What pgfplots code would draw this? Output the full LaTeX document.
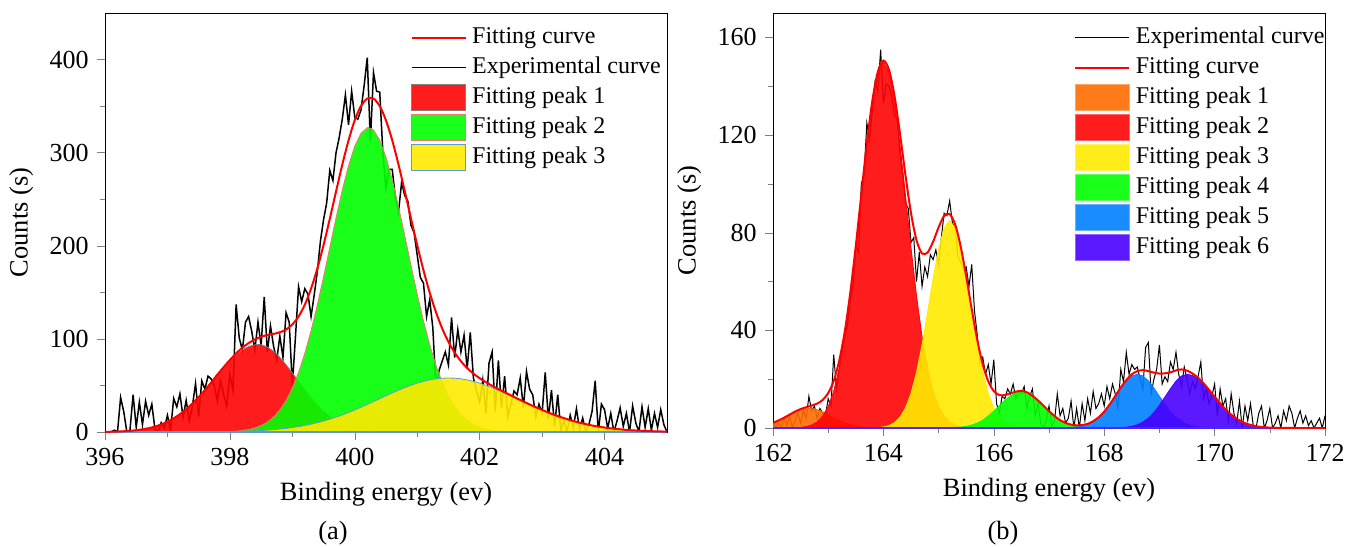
\documentclass[12pt,border=0pt]{standalone}
\usepackage{fontspec}
\setmainfont{Liberation Serif}
\usepackage{pgfplots}
\pgfplotsset{compat=1.18}
\definecolor{pkred}{RGB}{255,3,3}
\definecolor{pkgreen}{RGB}{0,255,0}
\definecolor{pkyellow}{RGB}{255,234,0}
\definecolor{pkorange}{RGB}{255,107,0}
\definecolor{pkblue}{RGB}{0,127,255}
\definecolor{pkviolet}{RGB}{72,0,255}
\definecolor{edgeblue}{RGB}{91,155,213}
\definecolor{edgesalmon}{RGB}{240,120,110}
\definecolor{baseviolet}{RGB}{70,40,255}

\pgfplotsset{
  legline/.style={legend image code/.code={\draw[##1] (0pt,0pt) -- (27pt,0pt);}},
  legbox/.style={legend image code/.code={\draw[##1] (0pt,-6.5pt) rectangle (27pt,6.5pt);}},
  xps/.style={
    scale only axis, tick align=outside, tick pos=left,
    minor tick num=1, major tick length=4pt, minor tick length=2.5pt,
    /pgf/number format/assume math mode=true,
    label style={font=\fontsize{13.2}{15}\selectfont},
    tick label style={font=\fontsize{13}{15}\selectfont},
    xlabel={Binding energy (ev)}, ylabel={Counts (s)},
    legend cell align=left,
    legend style={draw=none, fill=none, anchor=north west, row sep=0pt,
                  inner sep=0pt,
                  nodes={inner sep=1pt, text height=9.5pt, text depth=3.5pt},
                  /tikz/every odd column/.append style={column sep=1.8pt},
                  font=\fontsize{12}{14}\selectfont},
  },
  peak/.style={fill opacity=0.9, line width=0.4pt},
}

\begin{document}
\begin{tikzpicture}
\useasboundingbox (0,0) rectangle (673.5pt,-273pt);

% ---------------- panel (a) ----------------
\begin{axis}[xps,
  at={(52.5pt,-216pt)}, anchor=south west,
  width=281pt, height=209.5pt,
  xmin=396, xmax=405, ymin=0, ymax=450,
  xtick={396,398,...,404}, ytick={0,100,...,400},
  legend style={at={(0.543,0.978)}},
]
% experimental curve
\addplot[black, line width=0.75pt, forget plot] coordinates {
(396.10,0)(396.15,2)(396.20,0)(396.25,37)(396.30,22)(396.35,0)(396.40,2)(396.45,40)
(396.50,5)(396.55,32)(396.60,8)(396.65,33)(396.70,18)(396.75,30)(396.80,3)(396.85,0)
(396.90,10)(396.95,4)(397.00,18)(397.05,2)(397.10,36)(397.15,27)(397.20,41)(397.25,16)
(397.30,34)(397.35,12)(397.40,28)(397.45,52)(397.50,17)(397.55,55)(397.60,46)(397.65,60)
(397.70,57)(397.75,50)(397.80,33)(397.85,55)(397.90,40)(397.95,28)(398.00,62)(398.05,45)
(398.10,137)(398.15,101)(398.20,88)(398.25,118)(398.30,124)(398.35,108)(398.40,88)(398.45,118)
(398.50,93)(398.55,145)(398.60,86)(398.65,114)(398.70,92)(398.75,77)(398.80,103)(398.85,80)
(398.90,128)(398.95,118)(399.00,50)(399.05,102)(399.10,156)(399.15,140)(399.20,154)(399.25,148)
(399.30,124)(399.35,147)(399.40,172)(399.45,205)(399.50,228)(399.55,246)(399.60,281)(399.65,270)
(399.70,300)(399.75,316)(399.80,336)(399.85,362)(399.90,330)(399.95,366)(400.00,338)(400.05,336)
(400.10,346)(400.15,372)(400.20,402)(400.25,312)(400.30,386)(400.35,366)(400.40,365)(400.45,300)
(400.50,262)(400.55,282)(400.60,282)(400.65,252)(400.70,236)(400.75,268)(400.80,254)(400.85,248)
(400.90,222)(400.95,214)(401.00,190)(401.05,166)(401.10,160)(401.15,124)(401.20,142)(401.25,112)
(401.30,48)(401.35,66)(401.40,76)(401.45,86)(401.50,72)(401.55,123)(401.60,80)(401.65,110)
(401.70,86)(401.75,104)(401.80,68)(401.85,107)(401.90,58)(401.95,44)(402.00,32)(402.05,56)
(402.10,20)(402.15,74)(402.20,86)(402.25,22)(402.30,77)(402.35,26)(402.40,60)(402.45,16)
(402.50,30)(402.55,44)(402.60,40)(402.65,58)(402.70,26)(402.75,65)(402.80,46)(402.85,40)
(402.90,16)(402.95,30)(403.00,20)(403.05,64)(403.10,14)(403.15,45)(403.20,6)(403.25,40)
(403.30,2)(403.35,12)(403.40,0)(403.45,18)(403.50,5)(403.55,25)(403.60,3)(403.65,15)
(403.70,0)(403.75,8)(403.80,22)(403.85,55)(403.90,0)(403.95,30)(404.00,24)(404.05,4)
(404.10,20)(404.15,0)(404.20,12)(404.25,26)(404.30,6)(404.35,20)(404.40,0)(404.45,28)
(404.50,10)(404.55,0)(404.60,27)(404.65,5)(404.70,25)(404.75,2)(404.80,20)(404.85,5)
(404.90,24)(404.95,8)(405.00,0)};
% fitting peak 1
\addplot[peak, fill=pkred, draw=gray, forget plot] coordinates {
(396.0,0.2)(396.1,0.3)(396.2,0.5)(396.3,0.8)(396.4,1.3)(396.5,1.9)(396.6,2.9)(396.7,4.1)
(396.8,5.8)(396.9,8.1)(397.0,11.0)(397.1,14.7)(397.2,19.1)(397.3,24.3)(397.4,30.6)(397.5,37.4)
(397.6,44.9)(397.7,52.9)(397.8,61.1)(397.9,69.0)(398.0,76.4)(398.1,82.9)(398.2,88.2)(398.3,91.8)
(398.4,93.7)(398.45,94)(398.5,93.7)(398.6,91.3)(398.7,86.7)(398.8,80.2)(398.9,72.2)(399.0,63.5)
(399.1,54.2)(399.2,45.2)(399.3,36.8)(399.4,29.0)(399.5,22.4)(399.6,16.8)(399.7,12.3)(399.8,8.8)
(399.9,6.1)(400.0,4.1)(400.1,2.7)(400.2,1.7)(400.3,1.1)(400.4,0.7)(400.5,0.4)(400.6,0.2)(400.7,0.1)} \closedcycle;
% fitting peak 2
\addplot[peak, fill=pkgreen, draw=edgesalmon, forget plot] coordinates {
(397.8,0.2)(397.9,0.3)(398.0,0.5)(398.1,0.9)(398.2,1.6)(398.3,2.7)(398.4,4.4)(398.5,7.0)
(398.6,10.8)(398.7,16.2)(398.8,23.7)(398.9,33.9)(399.0,47.2)(399.1,64.0)(399.2,84.5)(399.3,108.8)
(399.4,136.4)(399.5,166.6)(399.6,198.3)(399.7,230.0)(399.8,260.0)(399.9,286.1)(400.0,307.1)(400.1,320.9)
(400.2,326.8)(400.22,327)(400.3,324.3)(400.4,313.5)(400.5,295.3)(400.6,271.1)(400.7,242.3)(400.8,211.1)
(400.9,179.2)(401.0,148.2)(401.1,119.4)(401.2,93.8)(401.3,71.7)(401.4,53.5)(401.5,38.8)(401.6,27.5)
(401.7,18.9)(401.8,12.7)(401.9,8.3)(402.0,5.3)(402.1,3.3)(402.2,2.0)(402.3,1.2)(402.4,0.7)
(402.5,0.4)(402.6,0.2)(402.7,0.1)} \closedcycle;
% fitting peak 3
\addplot[peak, fill=pkyellow, draw=edgeblue, forget plot] coordinates {
(397.5,0.1)(397.6,0.14)(397.7,0.18)(397.8,0.25)(397.9,0.33)(398.0,0.44)(398.1,0.58)(398.2,0.76)
(398.3,1.0)(398.4,1.3)(398.5,1.6)(398.6,2.0)(398.7,2.5)(398.8,3.2)(398.9,3.9)(399.0,4.8)
(399.1,5.8)(399.2,7.0)(399.3,8.4)(399.4,10.0)(399.5,11.8)(399.6,13.8)(399.7,16.0)(399.8,18.3)
(399.9,20.9)(400.0,23.7)(400.1,26.6)(400.2,29.6)(400.3,32.7)(400.4,35.8)(400.5,38.9)(400.6,42.0)
(400.7,44.9)(400.8,47.7)(400.9,50.2)(401.0,52.5)(401.1,54.4)(401.2,56.0)(401.3,57.1)(401.4,57.8)
(401.5,58)(401.6,57.8)(401.7,57.1)(401.8,56.0)(401.9,54.4)(402.0,52.5)(402.1,50.2)(402.2,47.7)
(402.3,44.9)(402.4,42.0)(402.5,38.9)(402.6,35.8)(402.7,32.7)(402.8,29.6)(402.9,26.6)(403.0,23.7)
(403.1,20.9)(403.2,18.3)(403.3,16.0)(403.4,13.8)(403.5,11.8)(403.6,10.0)(403.7,8.4)(403.8,7.0)
(403.9,5.8)(404.0,4.8)(404.1,3.9)(404.2,3.2)(404.3,2.5)(404.4,2.0)(404.5,1.6)(404.6,1.3)
(404.7,1.0)(404.8,0.76)(404.9,0.58)(405.0,0.44)} \closedcycle;
% baseline
\addplot[edgeblue, line width=0.8pt, forget plot] coordinates {(396,0)(405,0)};
% fitting curve
\addplot[red, line width=1pt, smooth, forget plot] coordinates {
(396.0,0.2)(396.1,0.3)(396.2,0.5)(396.3,0.8)(396.4,1.3)(396.5,1.9)(396.6,2.9)(396.7,4.1)
(396.8,5.8)(396.9,8.1)(397.0,11.0)(397.1,14.7)(397.2,19.1)(397.3,24.3)(397.4,30.6)(397.5,37.5)
(397.6,45.0)(397.7,53.1)(397.8,61.6)(397.9,69.6)(398.0,77.3)(398.1,84.4)(398.2,90.6)(398.3,95.5)
(398.4,99.4)(398.5,102.3)(398.6,104.1)(398.7,105.4)(398.8,107.1)(398.9,110.0)(399.0,115.5)(399.1,124.0)
(399.2,136.7)(399.3,154.0)(399.4,175.4)(399.5,200.8)(399.6,228.9)(399.7,258.3)(399.8,287.1)(399.9,313.1)
(400.0,334.9)(400.1,350.2)(400.2,358.1)(400.3,358.1)(400.4,350.0)(400.5,334.6)(400.6,313.3)(400.7,287.3)
(400.8,258.8)(400.9,229.4)(401.0,200.7)(401.1,173.8)(401.2,149.8)(401.3,128.8)(401.4,111.3)(401.5,96.8)
(401.6,85.3)(401.7,76.0)(401.8,68.7)(401.9,62.7)(402.0,57.8)(402.1,53.5)(402.2,49.7)(402.3,46.1)
(402.4,42.7)(402.5,39.3)(402.6,36.0)(402.7,32.8)(402.8,29.6)(402.9,26.6)(403.0,23.7)(403.2,18.3)
(403.4,13.8)(403.6,10.0)(403.8,7.0)(404.0,4.8)(404.2,3.2)(404.4,2.0)(404.6,1.3)(404.8,0.76)(405.0,0.44)};
\addlegendimage{legline, red, line width=1pt}
\addlegendentry{Fitting curve}
\addlegendimage{legline, black, line width=0.75pt}
\addlegendentry{Experimental curve}
\addlegendimage{legbox, fill=pkred!90!white, draw=gray}
\addlegendentry{Fitting peak 1}
\addlegendimage{legbox, fill=pkgreen!90!white, draw=edgesalmon}
\addlegendentry{Fitting peak 2}
\addlegendimage{legbox, fill=pkyellow!90!white, draw=edgeblue}
\addlegendentry{Fitting peak 3}
\end{axis}

% ---------------- panel (b) ----------------
\begin{axis}[xps,
  at={(386.5pt,-214pt)}, anchor=south west,
  width=276pt, height=207.5pt,
  xmin=162, xmax=172, ymin=0, ymax=170,
  xtick={162,164,...,172}, ytick={0,40,...,160},
  legend style={at={(0.545,0.978)}},
]
% experimental curve
\addplot[black, line width=0.5pt, forget plot] coordinates {
(162.00,3)(162.05,0)(162.10,2)(162.15,0)(162.20,4)(162.25,1)(162.30,5)(162.35,0)
(162.40,3)(162.45,6)(162.50,2)(162.55,7)(162.60,4)(162.65,13)(162.70,7)(162.75,9)
(162.80,4)(162.85,8)(162.90,6)(162.95,5)(163.00,12)(163.05,9)(163.10,30)(163.15,16)
(163.20,24)(163.25,32)(163.30,38)(163.35,42)(163.40,52)(163.45,58)(163.50,75)(163.55,72)
(163.60,100)(163.65,104)(163.70,125)(163.75,118)(163.80,130)(163.85,142)(163.90,138)(163.95,155)
(164.00,133)(164.05,141)(164.10,140)(164.15,136)(164.20,128)(164.25,127)(164.30,112)(164.35,104)
(164.40,92)(164.45,90)(164.50,76)(164.55,78)(164.60,60)(164.65,72)(164.70,58)(164.75,66)
(164.80,62)(164.85,71)(164.90,69)(164.95,73)(165.00,67)(165.05,78)(165.10,88)(165.15,87)
(165.20,93)(165.25,84)(165.30,82)(165.35,70)(165.40,68)(165.45,65)(165.50,66)(165.55,58)
(165.60,67)(165.65,48)(165.70,38)(165.75,26)(165.80,29)(165.85,22)(165.90,26)(165.95,18)
(166.00,28)(166.05,10)(166.10,6)(166.15,13)(166.20,12)(166.25,16)(166.30,14)(166.35,18)
(166.40,12)(166.45,15)(166.50,14)(166.55,17)(166.60,8)(166.65,13)(166.70,16)(166.75,5)
(166.80,10)(166.85,2)(166.90,0)(166.95,3)(167.00,9)(167.05,1)(167.10,3)(167.15,14)
(167.20,5)(167.25,8)(167.30,2)(167.35,4)(167.40,11)(167.45,0)(167.50,8)(167.55,0)
(167.60,10)(167.65,3)(167.70,12)(167.75,6)(167.80,15)(167.85,8)(167.90,10)(167.95,14)
(168.00,9)(168.05,17)(168.10,12)(168.15,18)(168.20,14)(168.25,8)(168.30,24)(168.35,19)
(168.40,31)(168.45,22)(168.50,26)(168.55,24)(168.60,25)(168.65,20)(168.70,16)(168.75,33)
(168.80,35)(168.85,14)(168.90,20)(168.95,24)(169.00,34)(169.05,18)(169.10,21)(169.15,19)
(169.20,27)(169.25,24)(169.30,31)(169.35,22)(169.40,17)(169.45,25)(169.50,20)(169.55,14)
(169.60,19)(169.65,16)(169.70,21)(169.75,27)(169.80,12)(169.85,16)(169.90,10)(169.95,13)
(170.00,18)(170.05,5)(170.10,16)(170.15,9)(170.20,12)(170.25,3)(170.30,14)(170.35,6)
(170.40,2)(170.45,11)(170.50,0)(170.55,9)(170.60,3)(170.65,10)(170.70,1)(170.75,0)
(170.80,6)(170.85,9)(170.90,0)(170.95,3)(171.00,8)(171.05,0)(171.10,2)(171.15,5)
(171.20,0)(171.25,7)(171.30,3)(171.35,9)(171.40,6)(171.45,0)(171.50,4)(171.55,7)
(171.60,2)(171.65,5)(171.70,1)(171.75,3)(171.80,0)(171.85,2)(171.90,4)(171.95,0)(172.00,5)};
% peak 1
\addplot[peak, fill=pkorange, draw=pkorange, forget plot] coordinates {
(162.0,2.1)(162.1,3.1)(162.2,4.2)(162.3,5.5)(162.4,6.6)(162.5,7.5)(162.6,7.9)(162.65,8)
(162.7,7.9)(162.8,7.5)(162.9,6.6)(163.0,5.5)(163.1,4.2)(163.2,3.1)(163.3,2.1)(163.4,1.4)
(163.5,0.84)(163.6,0.48)(163.7,0.26)(163.8,0.13)(163.9,0.06)(164.0,0.03)} \closedcycle;
% peak 2
\addplot[peak, fill=pkred, draw=pkred, forget plot] coordinates {
(162.4,0.1)(162.5,0.25)(162.6,0.58)(162.7,1.25)(162.8,2.5)(162.9,4.9)(163.0,8.8)(163.1,15.1)
(163.2,24.5)(163.3,37.4)(163.4,54.1)(163.5,73.8)(163.6,95.3)(163.7,116.2)(163.8,133.9)(163.9,145.8)
(164.0,150)(164.1,145.8)(164.2,133.9)(164.3,116.2)(164.4,95.3)(164.5,73.8)(164.6,54.1)(164.7,37.4)
(164.8,24.5)(164.9,15.1)(165.0,8.8)(165.1,4.9)(165.2,2.5)(165.3,1.25)(165.4,0.58)(165.5,0.25)(165.6,0.1)} \closedcycle;
% peak 3
\addplot[peak, fill=pkyellow, draw=pkyellow, forget plot] coordinates {
(163.8,0.07)(163.9,0.18)(164.0,0.44)(164.1,1.0)(164.2,2.2)(164.3,4.4)(164.4,8.2)(164.5,14.2)
(164.6,22.8)(164.7,34.1)(164.8,47.4)(164.9,61.2)(165.0,73.4)(165.1,82.0)(165.2,85)(165.3,82.0)
(165.4,73.4)(165.5,61.2)(165.6,47.4)(165.7,34.1)(165.8,22.8)(165.9,14.2)(166.0,8.2)(166.1,4.4)
(166.2,2.2)(166.3,1.0)(166.4,0.44)(166.5,0.18)(166.6,0.07)} \closedcycle;
% peak 4
\addplot[peak, fill=pkgreen, draw=pkgreen, forget plot] coordinates {
(165.2,0.08)(165.3,0.17)(165.4,0.34)(165.5,0.66)(165.6,1.2)(165.7,2.0)(165.8,3.2)(165.9,4.9)
(166.0,6.9)(166.1,9.1)(166.2,11.3)(166.3,13.2)(166.4,14.5)(166.5,15)(166.6,14.5)(166.7,13.2)
(166.8,11.3)(166.9,9.1)(167.0,6.9)(167.1,4.9)(167.2,3.2)(167.3,2.0)(167.4,1.2)(167.5,0.66)
(167.6,0.34)(167.7,0.17)(167.8,0.08)} \closedcycle;
% peak 5
\addplot[peak, fill=pkblue, draw=pkblue, forget plot] coordinates {
(167.3,0.09)(167.4,0.19)(167.5,0.41)(167.6,0.82)(167.7,1.5)(167.8,2.7)(167.9,4.4)(168.0,6.7)
(168.1,9.7)(168.2,13.0)(168.3,16.4)(168.4,19.3)(168.5,21.3)(168.6,22)(168.7,21.3)(168.8,19.3)
(168.9,16.4)(169.0,13.0)(169.1,9.7)(169.2,6.7)(169.3,4.4)(169.4,2.7)(169.5,1.5)(169.6,0.82)
(169.7,0.41)(169.8,0.19)(169.9,0.09)} \closedcycle;
% peak 6
\addplot[peak, fill=pkviolet, draw=pkviolet, forget plot] coordinates {
(168.2,0.06)(168.3,0.15)(168.4,0.33)(168.5,0.69)(168.6,1.3)(168.7,2.4)(168.8,4.0)(168.9,6.3)
(169.0,9.3)(169.1,12.7)(169.2,16.1)(169.3,19.2)(169.4,21.3)(169.5,22)(169.6,21.5)(169.7,20.2)
(169.8,18.1)(169.9,15.5)(170.0,12.8)(170.1,10.1)(170.2,7.6)(170.3,5.5)(170.4,3.8)(170.5,2.5)
(170.6,1.6)(170.7,0.97)(170.8,0.56)(170.9,0.31)(171.0,0.17)(171.1,0.085)} \closedcycle;
% baseline
\addplot[baseviolet, line width=1.5pt, forget plot] coordinates {(162,0)(172,0)};
% fitting curve
\addplot[red, line width=1pt, smooth, forget plot] coordinates {
(162.0,2.1)(162.1,3.1)(162.2,4.2)(162.3,5.5)(162.4,6.7)(162.5,7.75)(162.6,8.5)(162.7,9.2)
(162.8,10.0)(162.9,11.5)(163.0,14.3)(163.1,19.3)(163.2,27.6)(163.3,39.5)(163.4,55.5)(163.5,74.6)
(163.6,95.8)(163.7,116.5)(163.8,134.1)(163.9,146.0)(164.0,150.5)(164.1,146.8)(164.2,136.1)(164.3,120.6)
(164.4,103.5)(164.5,88.0)(164.6,76.9)(164.7,71.5)(164.8,71.9)(164.9,76.3)(165.0,82.2)(165.1,86.9)
(165.2,87.6)(165.3,83.4)(165.4,74.3)(165.5,62.1)(165.6,48.7)(165.7,36.1)(165.8,26.0)(165.9,19.1)
(166.0,15.1)(166.1,13.5)(166.2,13.5)(166.3,14.2)(166.4,14.9)(166.5,15.2)(166.6,14.6)(166.7,13.2)
(166.8,11.3)(166.9,9.1)(167.0,6.9)(167.1,4.9)(167.2,3.2)(167.3,2.1)(167.4,1.4)(167.5,1.1)
(167.6,1.2)(167.7,1.7)(167.8,2.8)(167.9,4.4)(168.0,6.7)(168.1,9.7)(168.2,13.1)(168.3,16.6)
(168.4,19.6)(168.5,22.0)(168.6,23.3)(168.7,23.7)(168.8,23.3)(168.9,22.7)(169.0,22.3)(169.1,22.4)
(169.2,22.8)(169.3,23.6)(169.4,24.0)(169.5,23.5)(169.6,22.3)(169.7,20.6)(169.8,18.3)(169.9,15.6)
(170.0,12.8)(170.1,10.1)(170.2,7.6)(170.3,5.5)(170.4,3.8)(170.5,2.5)(170.6,1.6)(170.7,0.97)
(170.8,0.56)(170.9,0.31)(171.0,0.17)(171.2,0.04)(171.5,0)(172.0,0)};
\addlegendimage{legline, black, line width=0.5pt}
\addlegendentry{Experimental curve}
\addlegendimage{legline, red, line width=1pt}
\addlegendentry{Fitting curve}
\addlegendimage{legbox, fill=pkorange!90!white, draw=pkorange!60!white}
\addlegendentry{Fitting peak 1}
\addlegendimage{legbox, fill=pkred!90!white, draw=pkred!60!white}
\addlegendentry{Fitting peak 2}
\addlegendimage{legbox, fill=pkyellow!90!white, draw=pkyellow!60!white}
\addlegendentry{Fitting peak 3}
\addlegendimage{legbox, fill=pkgreen!90!white, draw=pkgreen!60!white}
\addlegendentry{Fitting peak 4}
\addlegendimage{legbox, fill=pkblue!90!white, draw=pkblue!60!white}
\addlegendentry{Fitting peak 5}
\addlegendimage{legbox, fill=pkviolet!90!white, draw=pkviolet!60!white}
\addlegendentry{Fitting peak 6}
\end{axis}

\node[font=\fontsize{13.2}{15}\selectfont] at (166.5pt,-266.5pt) {(a)};
\node[font=\fontsize{13.2}{15}\selectfont] at (501.5pt,-266.5pt) {(b)};
\end{tikzpicture}
\end{document}
